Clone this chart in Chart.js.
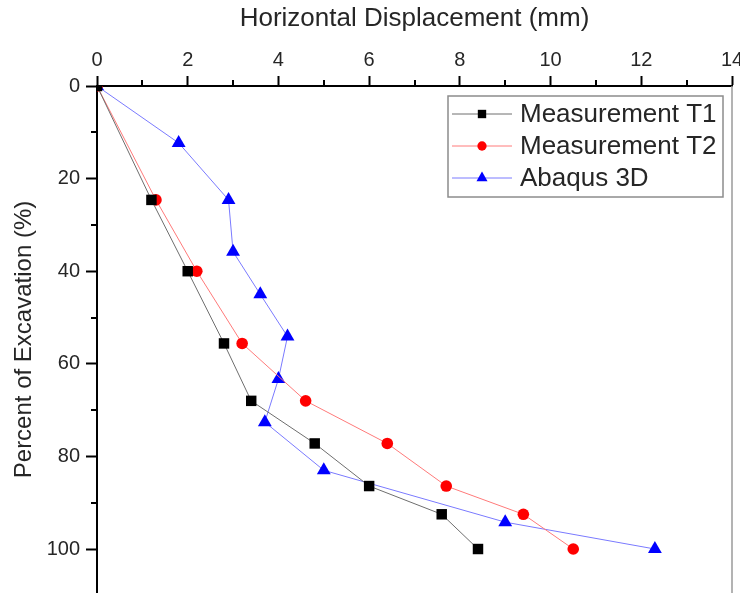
<!DOCTYPE html>
<html>
<head>
<meta charset="utf-8">
<script src="https://cdn.jsdelivr.net/npm/chart.js@4.4.0/dist/chart.umd.min.js"></script>
<style>
  html, body { margin: 0; padding: 0; background: #fff; overflow: hidden; }
  #wrap { width: 740px; height: 593px; }
</style>
</head>
<body>
<div id="wrap"><canvas id="dispChart" width="740" height="593"></canvas></div>
<script>
// values: x = displacement (mm), y = percent of excavation
const t1X = [0, 1.2, 2.0, 2.8, 3.4, 4.8, 6.0, 7.6, 8.4];
const t1Y = [0, 24.6, 40, 55.6, 68, 77.2, 86.4, 92.5, 100];
const t2X = [0, 1.3, 2.2, 3.2, 4.6, 6.4, 7.7, 9.4, 10.5];
const t2Y = [0, 24.6, 40, 55.6, 68, 77.2, 86.4, 92.5, 100];
const abaqusX = [0, 1.8, 2.9, 3.0, 3.6, 4.2, 4.0, 3.7, 5.0, 9.0, 12.3];
const abaqusY = [0, 12.3, 24.6, 35.8, 45, 54.1, 63.3, 72.6, 83, 94.2, 100];

const xTickValues = [0, 1, 2, 3, 4, 5, 6, 7, 8, 9, 10, 11, 12, 13, 14];
const yTickValues = [0, 10, 20, 30, 40, 50, 60, 70, 80, 90, 100];

const FONT = 'Liberation Sans, Arial, sans-serif';
const TEXT = '#262626';

function toPoints(xs, ys) {
    return xs.map((x, i) => ({ x: x, y: ys[i] }));
}

function setTicks(values) {
    return (scale) => {
        scale.ticks = values.map(v => ({ value: v }));
    };
}

// keep the plot area flush with the canvas edges
function noPadding(scale) {
    scale.paddingTop = 0;
    scale.paddingBottom = 0;
    scale.paddingLeft = 0;
    scale.paddingRight = 0;
}

// short minor ticks, drawn through the scales
const minorTicks = {
    id: 'minorTicks',
    afterDatasetsDraw(chart) {
        const ctx = chart.ctx;
        const xs = chart.scales.x;
        const ys = chart.scales.y;
        const area = chart.chartArea;
        ctx.save();
        ctx.strokeStyle = '#000';
        ctx.lineWidth = 2;
        xTickValues.filter(v => v % 2 !== 0).forEach(v => {
            const px = Math.round(xs.getPixelForValue(v));
            ctx.beginPath();
            ctx.moveTo(px, area.top);
            ctx.lineTo(px, area.top - 6);
            ctx.stroke();
        });
        yTickValues.filter(v => v % 20 !== 0).forEach(v => {
            const py = Math.round(ys.getPixelForValue(v));
            ctx.beginPath();
            ctx.moveTo(area.left, py);
            ctx.lineTo(area.left - 6, py);
            ctx.stroke();
        });
        // grey frame line on the right
        ctx.strokeStyle = '#9a9a9a';
        ctx.lineWidth = 1.5;
        ctx.beginPath();
        ctx.moveTo(area.right, area.top);
        ctx.lineTo(area.right, area.bottom);
        ctx.stroke();
        ctx.restore();
    }
};

// legend box inside the plot, top right
const boxLegend = {
    id: 'boxLegend',
    afterDraw(chart) {
        const ctx = chart.ctx;
        const left = 448, top = 96, w = 275, h = 101;
        ctx.save();
        ctx.fillStyle = '#fff';
        ctx.fillRect(left, top, w, h);
        ctx.strokeStyle = '#8c8c8c';
        ctx.lineWidth = 1.5;
        ctx.strokeRect(left, top, w, h);
        chart.data.datasets.forEach((ds, i) => {
            const y = top + 18 + i * 32;
            ctx.strokeStyle = ds.borderColor;
            ctx.lineWidth = 1;
            ctx.beginPath();
            ctx.moveTo(left + 4, y);
            ctx.lineTo(left + 64, y);
            ctx.stroke();
            ctx.fillStyle = ds.pointBackgroundColor;
            ctx.strokeStyle = ds.pointBackgroundColor;
            Chart.helpers.drawPoint(ctx, {
                pointStyle: ds.pointStyle,
                radius: ds.pointRadius * 0.8,
                rotation: 0,
                borderWidth: 0
            }, left + 34, y);
            ctx.fillStyle = TEXT;
            ctx.font = '26px ' + FONT;
            ctx.textBaseline = 'middle';
            ctx.textAlign = 'left';
            ctx.fillText(ds.label, left + 72, y + 1);
        });
        ctx.restore();
    }
};

const chart = new Chart(document.getElementById('dispChart').getContext('2d'), {
    type: 'scatter',
    data: {
        datasets: [{
            label: 'Measurement T1',
            data: toPoints(t1X, t1Y),
            showLine: true,
            borderColor: '#6e6e6e',
            borderWidth: 1,
            pointStyle: 'rect',
            pointRadius: 7.4,
            pointBackgroundColor: '#000',
            pointBorderWidth: 0
        }, {
            label: 'Measurement T2',
            data: toPoints(t2X, t2Y),
            showLine: true,
            borderColor: '#ff7a7a',
            borderWidth: 1,
            pointStyle: 'circle',
            pointRadius: 5.8,
            pointBackgroundColor: '#ff0000',
            pointBorderWidth: 0
        }, {
            label: 'Abaqus 3D',
            data: toPoints(abaqusX, abaqusY),
            showLine: true,
            borderColor: '#7a7aff',
            borderWidth: 1,
            pointStyle: 'triangle',
            pointRadius: 8,
            pointBackgroundColor: '#0000ff',
            pointBorderWidth: 0
        }]
    },
    options: {
        responsive: false,
        animation: false,
        devicePixelRatio: 1,
        layout: { autoPadding: false, padding: { left: 0, top: 0, right: 8, bottom: 0 } },
        plugins: {
            legend: { display: false },
            tooltip: { enabled: false }
        },
        scales: {
            x: {
                type: 'linear',
                position: 'top',
                min: 0,
                max: 14,
                afterBuildTicks: setTicks(xTickValues),
                afterFit: (scale) => {
                    scale.height = 86;
                    noPadding(scale);
                },
                grid: {
                    drawOnChartArea: false,
                    tickLength: 10,
                    tickWidth: 2,
                    tickColor: (c) => (c.tick && c.tick.value % 2 === 0) ? '#000' : 'rgba(0,0,0,0)'
                },
                border: { display: true, color: '#000', width: 2 },
                ticks: {
                    autoSkip: false,
                    maxRotation: 0,
                    padding: 4,
                    color: TEXT,
                    font: { family: FONT, size: 20 },
                    callback: (v) => v % 2 === 0 ? v : ''
                },
                title: {
                    display: true,
                    text: 'Horizontal Displacement (mm)',
                    color: TEXT,
                    font: { family: FONT, size: 26 },
                    padding: { top: 3, bottom: 2 }
                }
            },
            y: {
                type: 'linear',
                reverse: true,
                min: 0,
                max: 109.5,
                afterBuildTicks: setTicks(yTickValues),
                afterFit: (scale) => {
                    scale.width = 97;
                    noPadding(scale);
                },
                grid: {
                    drawOnChartArea: false,
                    tickLength: 11,
                    tickWidth: 2,
                    tickColor: (c) => (c.tick && c.tick.value % 20 === 0) ? '#000' : 'rgba(0,0,0,0)'
                },
                border: { display: true, color: '#000', width: 2 },
                ticks: {
                    autoSkip: false,
                    padding: 6,
                    color: TEXT,
                    font: { family: FONT, size: 20 },
                    callback: (v) => v % 20 === 0 ? v : ''
                },
                title: {
                    display: true,
                    text: 'Percent of Excavation (%)',
                    color: TEXT,
                    font: { family: FONT, size: 24 },
                    padding: { top: 10, bottom: 0 }
                }
            }
        }
    },
    plugins: [minorTicks, boxLegend]
});
</script>
</body>
</html>
